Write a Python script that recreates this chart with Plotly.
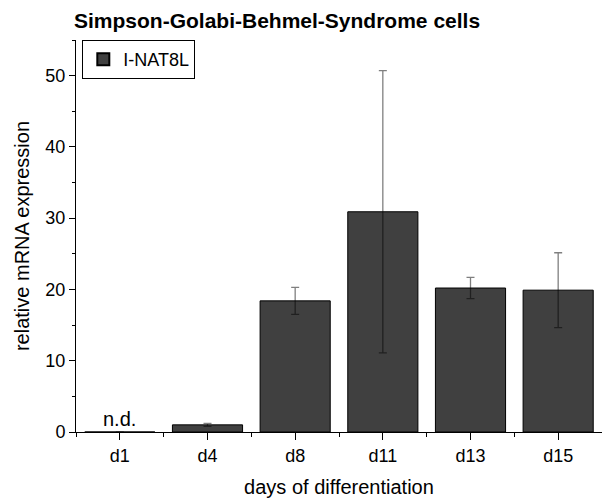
import plotly.graph_objects as go

categories = ["d1", "d4", "d8", "d11", "d13", "d15"]
values = [0.0, 1.0, 18.4, 30.9, 20.2, 19.9]
errors = [0.0, 0.2, 1.9, 19.8, 1.5, 5.25]
series_name = "I-NAT8L"

xpos = list(range(len(categories)))

fig = go.Figure()
fig.add_trace(go.Bar(
    x=xpos, y=values, name=series_name, width=0.8,
    marker=dict(color="#404040", line=dict(color="#000000", width=1)),
    error_y=dict(type="data", array=errors, visible=True,
                 color="rgba(0,0,0,0.5)", thickness=1.3, width=4),
    showlegend=True,
))

fig.add_annotation(x=0, y=0, text="n.d.", showarrow=False, xref="x", yref="y",
                   yanchor="bottom", yshift=0,
                   font=dict(family="Liberation Sans, Arial", size=20, color="#000"))

fig.update_layout(
    width=602, height=498,
    margin=dict(l=76, r=0, t=40, b=66),
    paper_bgcolor="white", plot_bgcolor="white",
    font=dict(family="Liberation Sans, Arial", size=18, color="#000"),
    title=dict(text="<b>Simpson-Golabi-Behmel-Syndrome cells</b>",
               x=74/602, xanchor="left", y=1-21/498, yanchor="middle",
               font=dict(size=21, color="#000")),
    showlegend=True,
    legend=dict(x=0.012, y=1.0, xanchor="left", yanchor="top",
                bordercolor="#000", borderwidth=1, bgcolor="white",
                font=dict(size=18), itemsizing="constant", itemwidth=30),
    xaxis=dict(range=[-0.5, 5.5], tickmode="array", tickvals=xpos, ticktext=categories,
               showline=True, linecolor="#000", linewidth=1, ticks="outside",
               ticklen=7, tickcolor="#000", showgrid=False, zeroline=False,
               minor=dict(tickmode="linear", tick0=-0.5, dtick=1, ticks="outside",
                          ticklen=4, tickcolor="#000", showgrid=False),
               title=dict(text="days of differentiation", font=dict(size=20), standoff=16),
               tickfont=dict(size=18)),
    yaxis=dict(range=[0, 55], tickmode="linear", tick0=0, dtick=10,
               showline=True, linecolor="#000", linewidth=1, ticks="outside",
               ticklen=6, tickcolor="#000", showgrid=False, zeroline=False,
               minor=dict(tickmode="linear", tick0=5, dtick=10, ticks="outside",
                          ticklen=3, tickcolor="#000", showgrid=False),
               title=dict(text="relative mRNA expression", font=dict(size=20), standoff=10),
               tickfont=dict(size=18)),
    bargap=0.2,
)

fig.write_html("out.html")
